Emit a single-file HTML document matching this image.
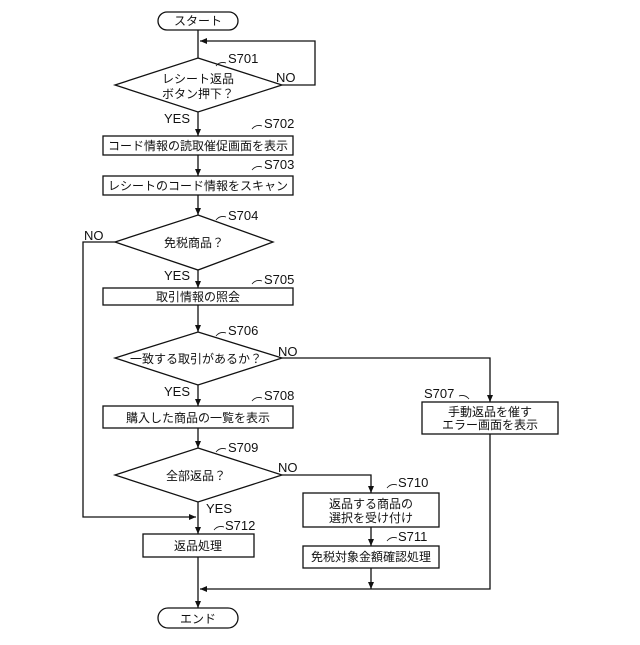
<!DOCTYPE html>
<html><head><meta charset="utf-8"><style>
html,body{margin:0;padding:0;background:#fff}
text{font-family:"Liberation Sans","Noto Sans CJK JP",sans-serif;fill:#111}
.t{font-size:12px;text-anchor:middle}
.l{font-size:13px}
</style></head><body>
<svg width="640" height="640" viewBox="0 0 640 640" xmlns="http://www.w3.org/2000/svg">
<defs><marker id="a" markerWidth="8" markerHeight="8" refX="7" refY="4" orient="auto" markerUnits="userSpaceOnUse"><path d="M0,1 L7,4 L0,7 z" fill="#111"/></marker></defs>
<g fill="none" stroke="#111" stroke-width="1.3">
<rect x="158" y="12" width="80" height="18" rx="9"/>
<path d="M198,30 V58"/>
<path d="M282,85 H315 V41 H200" marker-end="url(#a)"/>
<polygon points="198,58 282,85 198,112 115,85"/>
<path d="M198,112 V136" marker-end="url(#a)"/>
<rect x="103" y="136" width="190" height="19"/>
<path d="M198,155 V176" marker-end="url(#a)"/>
<rect x="103" y="176" width="190" height="19"/>
<path d="M198,195 V215" marker-end="url(#a)"/>
<polygon points="198,215 273,242 198,270 115,242"/>
<path d="M115,242 H83 V517 H196" marker-end="url(#a)"/>
<path d="M198,270 V288" marker-end="url(#a)"/>
<rect x="103" y="288" width="190" height="17"/>
<path d="M198,305 V332" marker-end="url(#a)"/>
<polygon points="198,332 282,358 198,385 115,358"/>
<path d="M282,358 H490 V402" marker-end="url(#a)"/>
<rect x="422" y="402" width="136" height="32"/>
<path d="M490,434 V589 H200" marker-end="url(#a)"/>
<path d="M198,385 V406" marker-end="url(#a)"/>
<rect x="103" y="406" width="190" height="22"/>
<path d="M198,428 V448" marker-end="url(#a)"/>
<polygon points="198,448 282,475 198,502 115,475"/>
<path d="M282,475 H371 V493" marker-end="url(#a)"/>
<rect x="303" y="493" width="136" height="34"/>
<path d="M371,527 V546" marker-end="url(#a)"/>
<rect x="303" y="546" width="136" height="22"/>
<path d="M371,568 V589" marker-end="url(#a)"/>
<path d="M198,502 V534" marker-end="url(#a)"/>
<rect x="143" y="534" width="111" height="23"/>
<path d="M198,557 V608" marker-end="url(#a)"/>
<rect x="158" y="608" width="80" height="20" rx="10"/>
<g stroke-width="0.8">
<path d="M226,63 q-6,-2 -10,3"/><path d="M262,126 q-6,-2 -10,3"/><path d="M262,167 q-6,-2 -10,3"/>
<path d="M226,217 q-6,-2 -10,3"/><path d="M262,281 q-6,-2 -10,3"/><path d="M226,333 q-6,-2 -10,3"/>
<path d="M262,398 q-6,-2 -10,3"/><path d="M226,449 q-6,-2 -10,3"/><path d="M397,485 q-6,-2 -10,3"/>
<path d="M397,538 q-6,-2 -10,3"/><path d="M224,527 q-6,-2 -10,3"/><path d="M459,396 q6,-2 10,3"/>
</g>
</g>
<text class="t" x="198" y="25">スタート</text>
<text class="t" x="198" y="83">レシート返品</text>
<text class="t" x="198" y="98">ボタン押下？</text>
<text class="t" x="198" y="150">コード情報の読取催促画面を表示</text>
<text class="t" x="198" y="190">レシートのコード情報をスキャン</text>
<text class="t" x="194" y="247">免税商品？</text>
<text class="t" x="198" y="301">取引情報の照会</text>
<text class="t" x="196" y="363">一致する取引があるか？</text>
<text class="t" x="198" y="422">購入した商品の一覧を表示</text>
<text class="t" x="196" y="480">全部返品？</text>
<text class="t" x="490" y="416">手動返品を催す</text>
<text class="t" x="490" y="429">エラー画面を表示</text>
<text class="t" x="371" y="508">返品する商品の</text>
<text class="t" x="371" y="522">選択を受け付け</text>
<text class="t" x="371" y="561">免税対象金額確認処理</text>
<text class="t" x="198" y="550">返品処理</text>
<text class="t" x="198" y="623">エンド</text>
<g class="l">
<text x="228" y="63">S701</text><text x="264" y="128">S702</text><text x="264" y="169">S703</text>
<text x="228" y="220">S704</text><text x="264" y="284">S705</text><text x="228" y="335">S706</text>
<text x="264" y="400">S708</text><text x="228" y="452">S709</text><text x="398" y="487">S710</text>
<text x="398" y="541">S711</text><text x="225" y="530">S712</text><text x="424" y="398">S707</text>
<text x="276" y="82">NO</text><text x="84" y="240">NO</text><text x="278" y="356">NO</text><text x="278" y="472">NO</text>
<text x="164" y="123">YES</text><text x="164" y="280">YES</text><text x="164" y="396">YES</text><text x="206" y="513">YES</text>
</g>
</svg>
</body></html>
